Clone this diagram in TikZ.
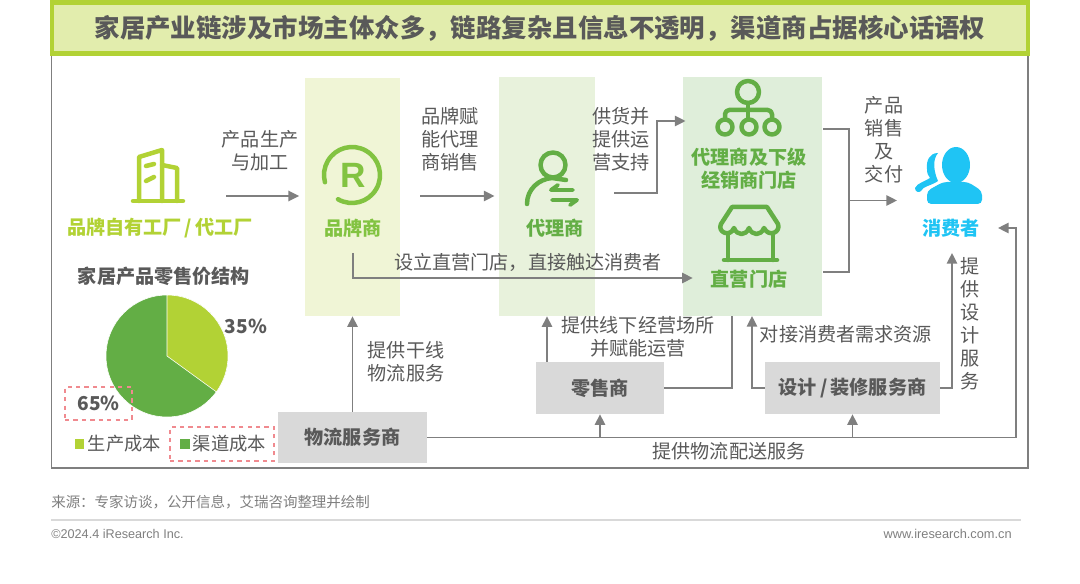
\documentclass[tikz,border=0pt]{standalone}
\usepackage{xcolor}
\usepackage{fontspec}
\setmainfont{Noto Sans CJK SC}
\newfontfamily\latinfont{Liberation Sans}
\usetikzlibrary{arrows.meta, positioning, calc}
\definecolor{mygrey}{RGB}{127,127,127}
\definecolor{mytext}{RGB}{89,89,89}
\definecolor{mylime}{RGB}{178,210,53}
\definecolor{mygreen}{RGB}{99,174,69}
\definecolor{myleaf}{RGB}{130,195,65}
\definecolor{mysky}{RGB}{31,196,244}
\definecolor{mypink}{RGB}{240,138,143}
\definecolor{hdrlime}{RGB}{226,237,173}
\definecolor{bandlime}{RGB}{240,245,214}
\definecolor{bandleaf}{RGB}{232,242,220}
\definecolor{bandgreen}{RGB}{223,238,218}
\definecolor{boxgrey}{RGB}{217,217,217}
\newcommand{\lblfont}{\fontsize{13.6pt}{16.3pt}\selectfont}
\tikzset{
  band/.style={rectangle, inner sep=0pt},
  greyblock/.style={rectangle, fill=boxgrey, inner sep=0pt, minimum height=1.3cm,
    font=\lblfont\bfseries, text=mytext},
  txt/.style={font=\lblfont, text=mytext, align=center, inner sep=0pt},
  boldtxt/.style={font=\lblfont\bfseries, align=center, inner sep=0pt},
  pct/.style={font=\fontsize{13.6pt}{16pt}\selectfont\bfseries, text=mytext, inner sep=0pt},
  arrow/.style={-{Triangle[length=7.6pt,width=7.4pt]}, line width=1.2pt, color=mygrey},
  line/.style={line width=1.2pt, color=mygrey},
  dashbox/.style={draw=mypink, dashed, line width=0.9pt, inner sep=0pt},
  icon/.style={line width=3.2pt, line cap=round, line join=round}
}
\begin{document}
\begin{tikzpicture}[x=0.025cm, y=-0.025cm]
  \useasboundingbox (0,0) rectangle (1080,584);

  % frame and title
  \draw[color=mygrey, line width=1.1pt] (51.5,50) rectangle (1028,468);
  \node[rectangle, fill=hdrlime, draw=mylime, line width=3pt, minimum width=24.4cm,
    minimum height=1.27cm, inner sep=0pt, font=\fontsize{18.1pt}{20pt}\selectfont\bfseries,
    text=mytext] (title) at (540,28) {家居产业链涉及市场主体众多，链路复杂且信息不透明，渠道商占据核心话语权};

  % bands
  \node[band, fill=bandlime, minimum width=2.375cm, minimum height=5.95cm] (brand) at (352.5,197) {};
  \node[band, fill=bandleaf, minimum width=2.4cm, minimum height=5.975cm] (agent) at (547,196.5) {};
  \node[band, fill=bandgreen, minimum width=3.475cm, minimum height=5.975cm] (dealer) at (752.5,196.5) {};

  % grey blocks
  \node[greyblock, minimum width=3.725cm, minimum height=1.275cm] (logis) at (352.5,437.5) {物流服务商};
  \node[greyblock, minimum width=3.2cm] (retail) at (600,388) {零售商};
  \node[greyblock, minimum width=4.375cm] (design) at (852.5,388) {设计\,/\,装修服务商};

  % node names
  \node[boldtxt, text=mylime] (factory) at (160,228) {品牌自有工厂\,/\,代工厂};
  \node[boldtxt, text=myleaf] (brandname) at (353,228) {品牌商};
  \node[boldtxt, text=mygreen] (agentname) at (555,228) {代理商};
  \node[boldtxt, text=mygreen] (dealername) at (749,168.5) {代理商及下级\\经销商门店};
  \node[boldtxt, text=mygreen] (storename) at (749,279) {直营门店};
  \node[boldtxt, text=mysky] (consumer) at (951,228) {消费者};

  % factory icon
  \draw[mylime, icon] (133,201) -- (183,201);
  \draw[mylime, icon] (139,201) -- (139,157) -- (162,150) -- (162,201);
  \draw[mylime, icon] (162,165) -- (177,168) -- (177,201);
  \draw[mylime, icon] (146,166) -- (154,164) (146,181) -- (154,177);

  % brand icon
  \draw[myleaf, line width=3.2pt, line cap=round] (352,175) ++(-240:28) arc (-240:-555:28);
  \node[font=\latinfont\fontsize{25pt}{25pt}\selectfont\bfseries, text=myleaf, inner sep=0pt] (regmark) at (353,175) {R};

  % agent icon
  \draw[mygreen, icon] (553,165) circle (12.5);
  \draw[mygreen, icon] (527,204) .. controls (527,189) and (539,179) .. (552,178) -- (566,180);
  \draw[mygreen, line width=2.8pt, line cap=round, line join=round] (558,185) -- (551,190) -- (573,190);
  \draw[mygreen, line width=2.8pt, line cap=round, line join=round] (552,200) -- (577,200) -- (570,205);

  % dealer icon
  \draw[mygreen, icon] (748,92) circle (11);
  \draw[mygreen, icon] (725,127) circle (7.5) (749,127) circle (7.5) (772,127) circle (7.5);
  \draw[mygreen, icon, rounded corners=3pt] (725,119) -- (725,110) -- (772,110) -- (772,119);
  \draw[mygreen, icon] (748,103) -- (748,119);

  % store icon
  \draw[mygreen, icon] (732,207) -- (767,207) -- (778,224)
    .. controls (781,232) and (769,238) .. (764,228)
    .. controls (761,236) and (752,236) .. (749,228)
    .. controls (746,236) and (737,236) .. (734,228)
    .. controls (730,238) and (717,232) .. (721,224) -- cycle;
  \draw[mygreen, icon] (728,235) -- (728,260) (773,235) -- (773,260) (733,260) -- (777,260) (724,260) -- (733,260);

  % consumer icon
  \fill[mysky] (956,165) ellipse (14 and 18);
  \fill[mysky, rounded corners=3pt] (927,204) -- (927,191) -- (943,182) -- (968,182) -- (982,191) -- (982,204) -- cycle;
  \fill[mysky] (938,153) .. controls (930,153) and (926,160) .. (927,169)
    .. controls (927,173) and (928,176) .. (930,178)
    .. controls (926,181) and (917,183) .. (915,188)
    .. controls (915,192) and (919,193) .. (921,191)
    .. controls (923,186) and (931,186) .. (938,181)
    .. controls (934,172) and (932,160) .. (938,153) -- cycle;

  % connectors
  \coordinate (prodout) at (226,196);
  \coordinate (brandout) at (420,196);
  \coordinate (agentout) at (614,193);
  \coordinate (agentbend) at (657,121);
  \coordinate (directout) at (353,253);
  \coordinate (directbend) at (353,278);
  \coordinate (mergeout) at (823,129);
  \coordinate (mergeback) at (823,272);
  \coordinate (mergemid) at (849,200.5);
  \coordinate (righttip) at (998,228);
  \coordinate (rightbend) at (1016,228);
  \coordinate (designtip) at (952,253);
  \coordinate (retailin) at (732,316);
  \coordinate (designin) at (752,316);

  \draw[arrow, shorten >=4pt] (prodout) -- (prodout -| brand.west);
  \draw[arrow, shorten >=3pt] (brandout) -- (brandout -| agent.west);
  \draw[arrow, shorten >=-2pt] (agentout) -| (agentbend) -- (agentbend -| dealer.west);
  \draw[arrow] (directout) -- (directbend) -- ($(directbend -| dealer.west)+(10,0)$);
  \draw[line] (mergeout) -- (mergeout -| mergemid) -- (mergeback -| mergemid) -- (mergeback);
  \draw[arrow] (mergemid) -- ++(48,0);
  \draw[arrow] (logis.north) -- (brand.south);
  \draw[arrow] (retail.north -| agent.south) -- (agent.south);
  \draw[line] (retail.east) -| (retailin);
  \draw[arrow] (design.west) -| (designin);
  \draw[arrow] (design.east) -| (designtip);
  \draw[arrow] (logis.east) -| (rightbend) -- (righttip);
  \draw[arrow] (retail.south |- logis.east) -- (retail.south);
  \draw[arrow] (design.south |- logis.east) -- (design.south);

  % connector labels
  \node[txt] (lblmake) at (260,151) {产品生产\\与加工};
  \node[txt] (lblbrand) at (450,139) {品牌赋\\能代理\\商销售};
  \node[txt] (lblsupply) at (621,139) {供货并\\提供运\\营支持};
  \node[txt] (lblsale) at (884,139.5) {产品\\销售\\及\\交付};
  \node[txt] (lbldirect) at (528,262) {设立直营门店，直接触达消费者};
  \node[txt] (lbltrunk) at (406,362) {提供干线\\物流服务};
  \node[txt] (lblshop) at (638,336.5) {提供线下经营场所\\并赋能运营};
  \node[txt] (lblneed) at (846,334) {对接消费者需求资源};
  \node[txt] (lbldesign) at (970,323.5) {提\\供\\设\\计\\服\\务};
  \node[txt] (lblship) at (729,451) {提供物流配送服务};

  % pie
  \node[boldtxt, text=mytext] (pietitle) at (164,276) {家居产品零售价结构};
  \fill[mygreen, draw=white, line width=0.4pt] (167,356) circle (61);
  \fill[mylime, draw=white, line width=0.4pt] (167,356) -- ++(-90:61) arc (-90:36:61) -- cycle;
  \node[pct] (pctmake) at (246,326) {35\%};
  \node[pct, minimum width=1.675cm, minimum height=0.825cm, dashbox] (pctchan) at (98.5,403.5) {65\%};

  % legend
  \fill[mylime] (75,439) rectangle (84,449);
  \node[txt, font=\fontsize{13pt}{15pt}\selectfont] (legmake) at (124.5,444) {生产成本};
  \node[dashbox, minimum width=2.6cm, minimum height=0.85cm] (legbox) at (222,444) {};
  \fill[mygreen] (180,439) rectangle (190,449);
  \node[txt, font=\fontsize{13pt}{15pt}\selectfont] (legchan) at (229.5,444) {渠道成本};

  % footer
  \node[txt, font=\fontsize{10.3pt}{12pt}\selectfont, text=mygrey, anchor=west] (source) at (51,502) {来源：专家访谈，公开信息，艾瑞咨询整理并绘制};
  \draw[color=boxgrey, line width=1pt] (51,520) -- (1021,520);
  \node[txt, font=\latinfont\fontsize{9pt}{10pt}\selectfont, text=mygrey, anchor=west] (copyright) at (51,534) {©2024.4 iResearch Inc.};
  \node[txt, font=\latinfont\fontsize{9.1pt}{10pt}\selectfont, text=mygrey, anchor=east] (website) at (1012,534) {www.iresearch.com.cn};
\end{tikzpicture}
\end{document}
